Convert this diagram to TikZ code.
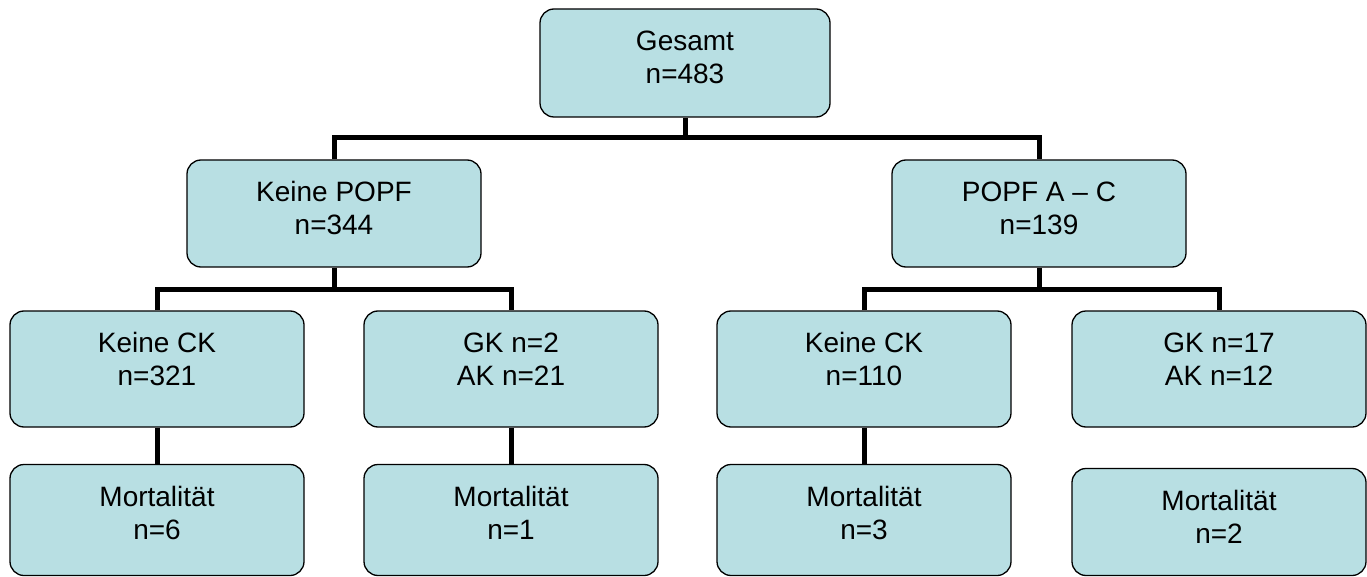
\documentclass[tikz,border=0pt]{standalone}
\usepackage{fontspec}
\setmainfont{Liberation Sans}
\definecolor{boxfill}{HTML}{B8DFE3}
\begin{document}
\begin{tikzpicture}[x=1pt,y=-1pt,
  box/.style={draw=black, line width=1.3pt, fill=boxfill, rounded corners=14pt, minimum width=294pt, inner sep=0pt},
  lbl/.style={anchor=north, inner sep=0pt, align=center, font=\fontsize{28}{33}\selectfont},
  conn/.style={line width=5pt, draw=black}]
\useasboundingbox (0,0) rectangle (1367,577);
% boxes
\node[box, minimum width=290pt, minimum height=108pt] (g) at (685,63) {};
\node[box, minimum height=107pt] (kp) at (334,213.5) {};
\node[box, minimum height=107pt] (pp) at (1039,213.5) {};
\node[box, minimum height=116pt] (k1) at (157,369) {};
\node[box, minimum height=116pt] (k2) at (511,369) {};
\node[box, minimum height=116pt] (k3) at (864,369) {};
\node[box, minimum height=116pt] (k4) at (1219,369) {};
\node[box, minimum height=111pt] (m1) at (157,520) {};
\node[box, minimum height=111pt] (m2) at (511,520) {};
\node[box, minimum height=111pt] (m3) at (864,520) {};
\node[box, minimum height=107pt] (m4) at (1219,522) {};
% texts
\node[lbl] (tg) at ([yshift=-22pt]g.north) {Gesamt\\n=483};
\node[lbl] (tkp) at ([yshift=-22pt]kp.north) {Keine POPF\\n=344};
\node[lbl] (tpp) at ([yshift=-22pt]pp.north) {POPF A – C\\n=139};
\node[lbl] (tk1) at ([yshift=-22pt]k1.north) {Keine CK\\n=321};
\node[lbl] (tk2) at ([yshift=-22pt]k2.north) {GK n=2\\AK n=21};
\node[lbl] (tk3) at ([yshift=-22pt]k3.north) {Keine CK\\n=110};
\node[lbl] (tk4) at ([yshift=-22pt]k4.north) {GK n=17\\AK n=12};
\node[lbl] (tm1) at ([yshift=-22pt]m1.north) {Mortalität\\n=6};
\node[lbl] (tm2) at ([yshift=-22pt]m2.north) {Mortalität\\n=1};
\node[lbl] (tm3) at ([yshift=-22pt]m3.north) {Mortalität\\n=3};
\node[lbl] (tm4) at ([yshift=-22pt]m4.north) {Mortalität\\n=2};
% connectors
\draw[conn] (g.south) -- ++(0,21);
\draw[conn] (kp.north) -- ++(0,-22) -| (pp.north);
\draw[conn] (kp.south) -- ++(0,23);
\draw[conn] (k1.north) -- ++(0,-21) -| (k2.north);
\draw[conn] (pp.south) -- ++(0,23);
\draw[conn] (k3.north) -- ++(0,-21) -| (k4.north);
\draw[conn] (k1.south) -- (m1.north);
\draw[conn] (k2.south) -- (m2.north);
\draw[conn] (k3.south) -- (m3.north);
\end{tikzpicture}
\end{document}
